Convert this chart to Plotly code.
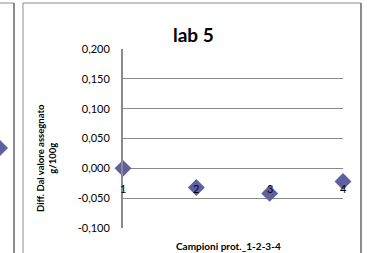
import plotly.graph_objects as go

# Data
samples = [1, 2, 3, 4]
sample_labels = ["1", "2", "3", "4"]
diff_values = [0.000, -0.032, -0.042, -0.022]
y_ticks = [-0.100, -0.050, 0.000, 0.050, 0.100, 0.150, 0.200]
y_tick_labels = ["-0,100", "-0,050", "0,000", "0,050", "0,100", "0,150", "0,200"]

W, H = 367, 253
L, R, T, B = 123, 343, 49, 228  # plot area pixel bounds

def px(x):
    return (x - L) / (R - L)

def py(y):
    return (B - y) / (B - T)

FONT = "Lato, 'Open Sans', sans-serif"
GRID = "#8a8a8a"
BORDER = "#8c8c8c"
MARK = "#60609e"

fig = go.Figure()
fig.add_trace(go.Scatter(
    x=samples, y=diff_values, mode="markers",
    marker=dict(symbol="diamond", size=13, color=MARK,
                line=dict(width=0)),
    cliponaxis=False, showlegend=False, hoverinfo="x+y",
))

# category labels next to the horizontal axis (which crosses at 0)
for s, lab in zip(samples, sample_labels):
    fig.add_annotation(x=s, y=0, xref="x", yref="y", text=lab,
                       showarrow=False, yshift=-20,
                       xanchor="center", yanchor="middle",
                       font=dict(family=FONT, size=11, color="#000"))

shapes = []
# main chart frame
shapes.append(dict(type="line", xref="paper", yref="paper",
                   x0=px(23), x1=px(23), y0=py(3), y1=py(260),
                   line=dict(color=BORDER, width=1)))
shapes.append(dict(type="line", xref="paper", yref="paper",
                   x0=px(23), x1=px(361), y0=py(3), y1=py(3),
                   line=dict(color=BORDER, width=1)))
shapes.append(dict(type="line", xref="paper", yref="paper",
                   x0=px(361), x1=px(361), y0=py(3), y1=py(260),
                   line=dict(color=BORDER, width=2)))
# neighbouring chart edge on the left
shapes.append(dict(type="line", xref="paper", yref="paper",
                   x0=px(14), x1=px(14), y0=py(3), y1=py(260),
                   line=dict(color=BORDER, width=2)))
shapes.append(dict(type="line", xref="paper", yref="paper",
                   x0=px(-2), x1=px(14), y0=py(3), y1=py(3),
                   line=dict(color=BORDER, width=1)))
# partially visible marker of neighbouring chart
shapes.append(dict(type="path", xref="paper", yref="paper",
                   path=f"M {px(-1)},{py(139)} L {px(8)},{py(148)} L {px(-1)},{py(157)} L {px(-10)},{py(148)} Z",
                   fillcolor=MARK, line=dict(width=0)))

fig.update_layout(
    width=W, height=H,
    margin=dict(l=L, r=W - R, t=T, b=H - B),
    paper_bgcolor="white", plot_bgcolor="white",
    shapes=shapes,
    xaxis=dict(range=[1, 4], showgrid=False, zeroline=False,
               showticklabels=False, ticks="", showline=False,
               fixedrange=True),
    yaxis=dict(range=[-0.1, 0.2], tickvals=y_ticks, ticktext=y_tick_labels,
               showgrid=True, gridcolor=GRID, gridwidth=1,
               zeroline=True, zerolinecolor=GRID, zerolinewidth=1,
               showline=True, linecolor=GRID, linewidth=2,
               ticks="", ticklabelstandoff=9,
               tickfont=dict(family=FONT, size=11, color="#000"),
               fixedrange=True),
    showlegend=False,
)

fig.add_annotation(xref="paper", yref="paper", x=px(193), y=py(35),
                   xanchor="center", yanchor="middle",
                   text="<b>lab 5</b>", showarrow=False,
                   font=dict(family=FONT, size=19, color="#000"))
fig.add_annotation(xref="paper", yref="paper", x=px(228), y=py(246),
                   xanchor="center", yanchor="middle",
                   text="<b>Campioni prot._1-2-3-4</b>", showarrow=False,
                   font=dict(family=FONT, size=10, color="#000"))
fig.add_annotation(xref="paper", yref="paper", x=px(46), y=py(158),
                   xanchor="center", yanchor="middle",
                   text="<b>Diff. Dal valore assegnato<br>g/100g</b>",
                   showarrow=False, textangle=-90,
                   font=dict(family=FONT, size=9.5, color="#000"))

fig.write_html("out.html", config={"displayModeBar": False},
               post_script="document.body.style.margin='0';document.body.style.overflow='hidden';")
